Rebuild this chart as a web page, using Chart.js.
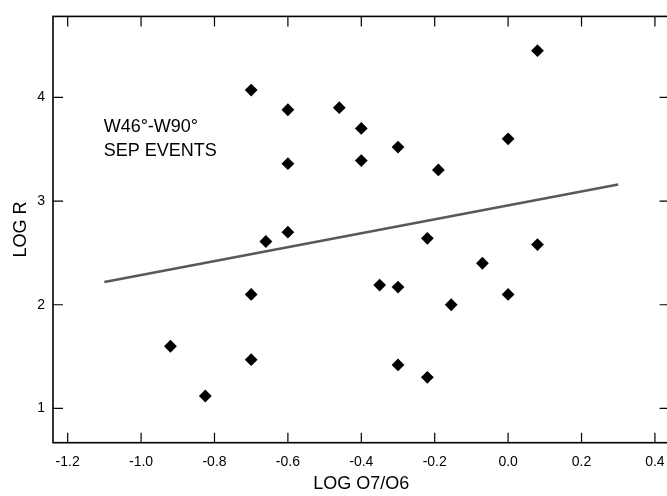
<!DOCTYPE html>
<html>
<head>
<meta charset="utf-8">
<script src="https://cdn.jsdelivr.net/npm/chart.js@4.4.1/dist/chart.umd.min.js"></script>
<style>
  html, body { margin: 0; padding: 0; overflow: hidden; background: #fff; }
  #wrap { width: 690px; height: 496px; position: relative; }
</style>
</head>
<body>
<div id="wrap"><canvas id="chart"></canvas></div>
<script>
// LOG O7/O6 vs LOG R, one point per event
const logO7O6 = [-0.70, -0.60, -0.46, -0.60, -0.60, -0.66, 0.08, -0.40, -0.40, -0.30, -0.19, 0.00, -0.22,
  0.08, -0.70, -0.92, -0.70, -0.825, -0.07, -0.35, -0.30, 0.00, -0.155, -0.30, -0.22];
const logR = [4.07, 3.88, 3.90, 3.36, 2.70, 2.61, 4.45, 3.70, 3.39, 3.52, 3.30, 3.60, 2.64,
  2.58, 2.10, 1.60, 1.47, 1.12, 2.40, 2.19, 2.17, 2.10, 2.00, 1.42, 1.30];

// fitted line, end points
const fitX = [-1.10, 0.30];
const fitY = [2.22, 3.16];

const xTicks = [-1.2, -1.0, -0.8, -0.6, -0.4, -0.2, 0.0, 0.2, 0.4];
const yTicks = [1, 2, 3, 4];

const noteLines = ['W46°-W90°', 'SEP EVENTS'];

const FONT = '"Liberation Sans", Arial, Helvetica, sans-serif';

// frame with inward ticks on all four sides + the text note
const framePlugin = {
  id: 'frame',
  afterDraw(chart) {
    const { ctx, chartArea: a, scales } = chart;
    const tl = 10;
    ctx.save();
    ctx.strokeStyle = '#000';
    ctx.lineWidth = 1.2;
    ctx.beginPath();
    xTicks.forEach(v => {
      const px = scales.x.getPixelForValue(v);
      ctx.moveTo(px, a.bottom); ctx.lineTo(px, a.bottom - tl);
      ctx.moveTo(px, a.top); ctx.lineTo(px, a.top + tl);
    });
    yTicks.forEach(v => {
      const py = scales.y.getPixelForValue(v);
      ctx.moveTo(a.left, py); ctx.lineTo(a.left + tl, py);
      ctx.moveTo(a.right, py); ctx.lineTo(a.right - tl, py);
    });
    ctx.stroke();
    ctx.lineWidth = 1.6;
    ctx.strokeRect(a.left, a.top, a.right - a.left, a.bottom - a.top);

    ctx.fillStyle = '#000';
    ctx.font = '18px ' + FONT;
    ctx.textAlign = 'left';
    ctx.textBaseline = 'alphabetic';
    const nx = scales.x.getPixelForValue(-1.102);
    const ny = scales.y.getPixelForValue(3.666);
    noteLines.forEach((t, i) => ctx.fillText(t, nx, ny + i * 24.3));
    ctx.restore();
  }
};

const points = logO7O6.map((x, i) => ({ x, y: logR[i] }));
const fit = fitX.map((x, i) => ({ x, y: fitY[i] }));

new Chart(document.getElementById('chart'), {
  type: 'scatter',
  data: {
    datasets: [
      {
        type: 'line',
        data: fit,
        borderColor: '#595959',
        borderWidth: 2.6,
        pointRadius: 0,
        fill: false
      },
      {
        data: points,
        pointStyle: 'rectRot',
        pointRadius: 6.4,
        pointBackgroundColor: '#000',
        pointBorderWidth: 0
      }
    ]
  },
  options: {
    responsive: true,
    maintainAspectRatio: false,
    animation: false,
    layout: { padding: { top: 15, right: 20.4, left: 0, bottom: 0 } },
    plugins: { legend: { display: false }, tooltip: { enabled: false } },
    scales: {
      x: {
        type: 'linear',
        min: -1.24,
        max: 0.44,
        grid: { display: false, drawTicks: false },
        border: { display: false },
        afterBuildTicks: s => { s.ticks = xTicks.map(v => ({ value: v })); },
        afterFit: s => { s.height = 53.3; },
        ticks: {
          padding: 11,
          color: '#000',
          font: { family: FONT, size: 14 },
          callback: v => v.toFixed(1)
        },
        title: {
          display: true,
          text: 'LOG O7/O6',
          color: '#000',
          font: { family: FONT, size: 18 },
          padding: { top: 0, bottom: 1 }
        }
      },
      y: {
        type: 'linear',
        min: 0.67,
        max: 4.78,
        grid: { display: false, drawTicks: false },
        border: { display: false },
        afterBuildTicks: s => { s.ticks = yTicks.map(v => ({ value: v })); },
        afterFit: s => { s.width = 53; },
        ticks: {
          padding: 8,
          color: '#000',
          font: { family: FONT, size: 14 },
          callback: v => String(v)
        },
        title: {
          display: true,
          text: 'LOG R',
          color: '#000',
          font: { family: FONT, size: 18 },
          padding: { top: 10, bottom: 0 }
        }
      }
    }
  },
  plugins: [framePlugin]
});
</script>
</body>
</html>
